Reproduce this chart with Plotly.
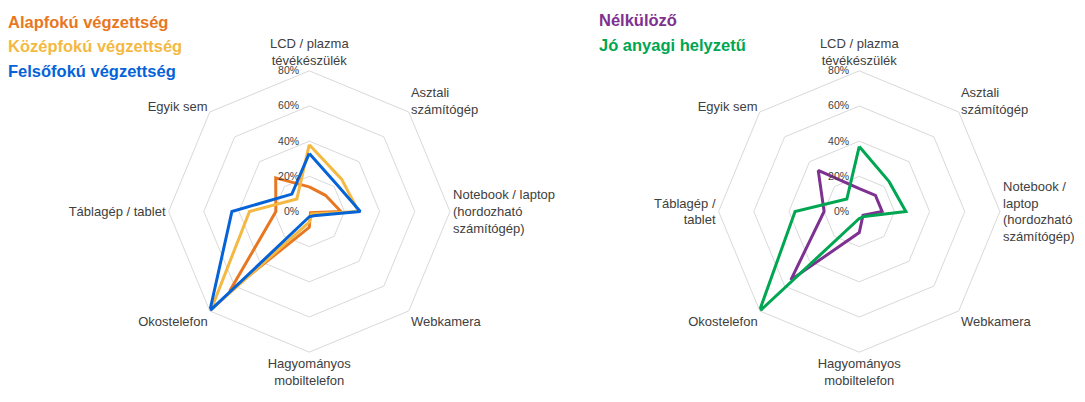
import plotly.graph_objects as go

categories = ["LCD", "Asztali", "Notebook", "Webkamera", "Hagyomanyos", "Okostelefon", "Tablagep", "Egyik"]
labels_left = ["LCD / plazma<br>tévékészülék", "Asztali<br>számítógép",
               "Notebook / laptop<br>(hordozható<br>számítógép)", "Webkamera",
               "Hagyományos<br>mobiltelefon", "Okostelefon", "Táblagép / tablet", "Egyik sem"]
labels_right = ["LCD / plazma<br>tévékészülék", "Asztali<br>számítógép",
                "Notebook /<br>laptop<br>(hordozható<br>számítógép)", "Webkamera",
                "Hagyományos<br>mobiltelefon", "Okostelefon", "Táblagép /<br>tablet", "Egyik sem"]

alapfoku = [14, 13, 18, 1, 9, 64, 19, 27]
kozepfoku = [38, 26, 28, 2, 6, 79, 34, 10]
felsofoku = [33, 22, 29, 3.5, 3, 80, 44, 14]
nelkulozo = [13, 13, 13, 3, 12, 55, 20, 33]
jo_anyagi = [37, 24, 26.5, 4, 4, 80.5, 36.5, 10]

radial_ticks = [0, 20, 40, 60, 80]
radial_text = ["0%", "20%", "40%", "60%", "80%"]

C_ORANGE = "#E87722"
C_YELLOW = "#F4B942"
C_BLUE = "#0563D8"
C_PURPLE = "#7E3191"
C_GREEN = "#00A651"

fig = go.Figure()

def add(vals, color, name, sub):
    fig.add_trace(go.Scatterpolar(
        r=vals + vals[:1], theta=categories + categories[:1], mode="lines",
        line=dict(color=color, width=3), name=name, subplot=sub,
        cliponaxis=False, showlegend=False))

add(alapfoku, C_ORANGE, "Alapfokú végzettség", "polar")
add(kozepfoku, C_YELLOW, "Középfokú végzettség", "polar")
add(felsofoku, C_BLUE, "Felsőfokú végzettség", "polar")
add(nelkulozo, C_PURPLE, "Nélkülöző", "polar2")
add(jo_anyagi, C_GREEN, "Jó anyagi helyzetű", "polar2")

def polar_layout(xdom, labels):
    return dict(
        domain=dict(x=xdom, y=[0.1239, 0.8239]),
        gridshape="linear",
        bgcolor="white",
        radialaxis=dict(range=[0, 80], tickvals=radial_ticks, ticktext=radial_text,
                        angle=90, tickangle=90, side="counterclockwise",
                        showline=False, ticks="outside", ticklen=6, tickcolor="rgba(0,0,0,0)",
                        gridcolor="#D9D9D9", gridwidth=1,
                        tickfont=dict(size=10.5, color="#404040", family="Liberation Sans")),
        angularaxis=dict(direction="clockwise", rotation=90, type="category",
                         categoryarray=categories, tickmode="array",
                         tickvals=categories, ticktext=labels,
                         showgrid=False, showline=True, linecolor="#D9D9D9", linewidth=1,
                         ticks="",
                         tickfont=dict(size=13, color="#404040", family="Liberation Sans")),
    )

fig.update_layout(
    width=1085, height=402,
    margin=dict(l=0, r=0, t=0, b=0),
    paper_bgcolor="white", plot_bgcolor="white",
    font=dict(family="Liberation Sans"),
    polar=polar_layout([0.1554, 0.4147], labels_left),
    polar2=polar_layout([0.6623, 0.9216], labels_right),
)

legend_items = [
    ("Alapfokú végzettség", C_ORANGE, 7, 22),
    ("Középfokú végzettség", C_YELLOW, 7, 46),
    ("Felsőfokú végzettség", C_BLUE, 7, 71),
    ("Nélkülöző", C_PURPLE, 598, 20),
    ("Jó anyagi helyzetű", C_GREEN, 598, 45),
]
for text, color, x, y in legend_items:
    fig.add_annotation(text="<b>%s</b>" % text, x=x / 1085, y=1 - y / 402,
                       xref="paper", yref="paper", xanchor="left", yanchor="middle",
                       borderpad=0,
                       showarrow=False, font=dict(size=16.5, color=color, family="Liberation Sans"))

fig.write_html("out.html", config={"displayModeBar": False},
               post_script="document.body.style.margin='0';document.body.style.overflow='hidden';")
